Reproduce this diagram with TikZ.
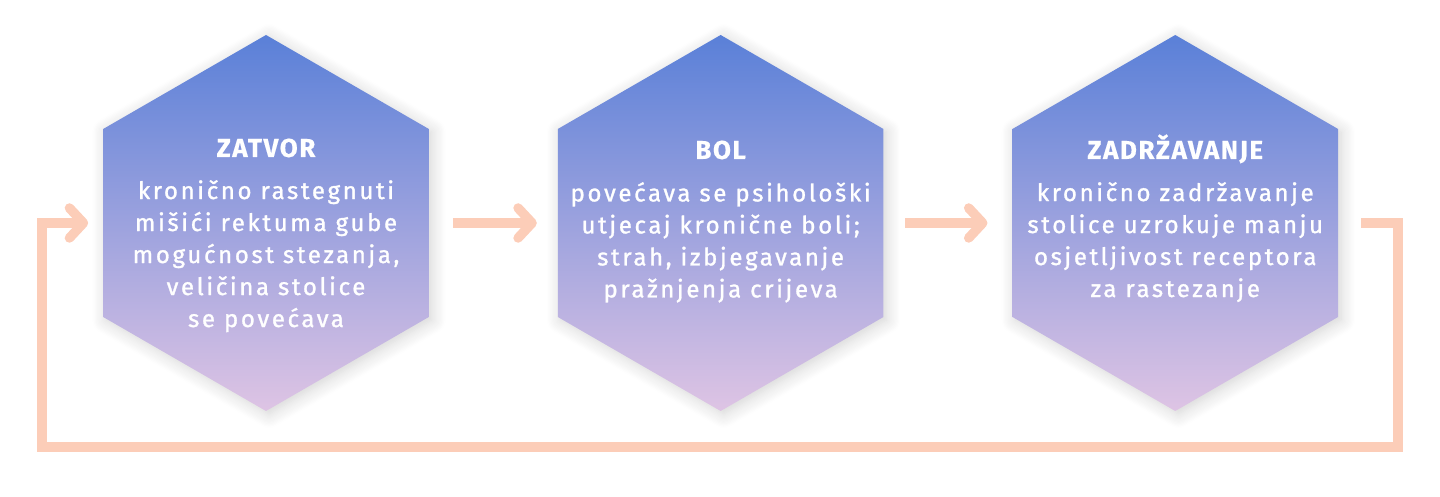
\documentclass[tikz,border=0pt]{standalone}
\usepackage{fontspec}
\setmainfont{Fira Sans}
\newfontfamily\headfont{Fira Sans Bold}[FakeBold=0.4,LetterSpace=6]
\newfontfamily\bodyfont{Fira Sans}[FakeBold=1.2,LetterSpace=11]
\usetikzlibrary{arrows.meta,positioning,shapes.geometric,shadows.blur}
\definecolor{hextop}{RGB}{90,128,216}
\definecolor{hexbot}{RGB}{222,196,228}
\definecolor{peach}{RGB}{252,205,184}

\begin{document}
\begin{tikzpicture}[x=1pt,y=1pt,>={Straight Barb[length=14pt,width=30pt,round]}]
        \tikzset{hexbox/.style={regular polygon, regular polygon sides=6, shape border rotate=30,
        minimum size=376pt, inner sep=0pt, outer sep=0pt,
        top color=hextop, bottom color=hexbot,
        blur shadow={shadow xshift=3pt, shadow yshift=-3pt, shadow blur radius=14pt, shadow opacity=18, shadow blur steps=12}},
        headtext/.style={text=white, font=\headfont\fontsize{26}{30}\selectfont, inner sep=0pt, anchor=base},
        bodytext/.style={text=white, font=\bodyfont\fontsize{24}{32}\selectfont, align=center, inner sep=0pt},
        flowline/.style={draw=peach, line width=9.5pt}
        }
        \useasboundingbox (0,0) rectangle (1440,497);
        \node [hexbox] (zatvor) at (266,274) {};
        \node [hexbox, right=129pt of zatvor] (bol) {};
        \node [hexbox, right=129pt of bol] (zadrzavanje) {};
%% texts
        \node [headtext] (zatvorH) at ([yshift=66pt]zatvor.center) {ZATVOR};
        \node [bodytext, below=23pt of zatvorH.base] (zatvorB) {kronično rastegnuti\\mišići rektuma gube\\mogućnost stezanja,\\veličina stolice\\se povećava};
        \node [headtext] (bolH) at ([yshift=64pt]bol.center) {BOL};
        \node [bodytext, below=23pt of bolH.base] (bolB) {povećava se psihološki\\utjecaj kronične boli;\\strah, izbjegavanje\\pražnjenja crijeva};
        \node [headtext] (zadrzavanjeH) at ([yshift=64pt]zadrzavanje.center) {ZADRŽAVANJE};
        \node [bodytext, below=23pt of zadrzavanjeH.base] (zadrzavanjeB) {kronično zadržavanje\\stolice uzrokuje manju\\osjetljivost receptora\\za rastezanje};
%% paths
        \coordinate (loopSE) at (1398,50);
        \coordinate (loopSW) at (42,50);
        \path[->] ([xshift=24pt]zatvor.east) edge[flowline] ([xshift=-21pt]bol.west)
                    ([xshift=22pt]bol.east) edge[flowline] ([xshift=-25pt]zadrzavanje.west)
                    ;
        \draw[flowline,->] ([xshift=23pt]zadrzavanje.east) -| (loopSE) -- (loopSW) |- ([xshift=-15pt]zatvor.west);
\end{tikzpicture}
\end{document}
